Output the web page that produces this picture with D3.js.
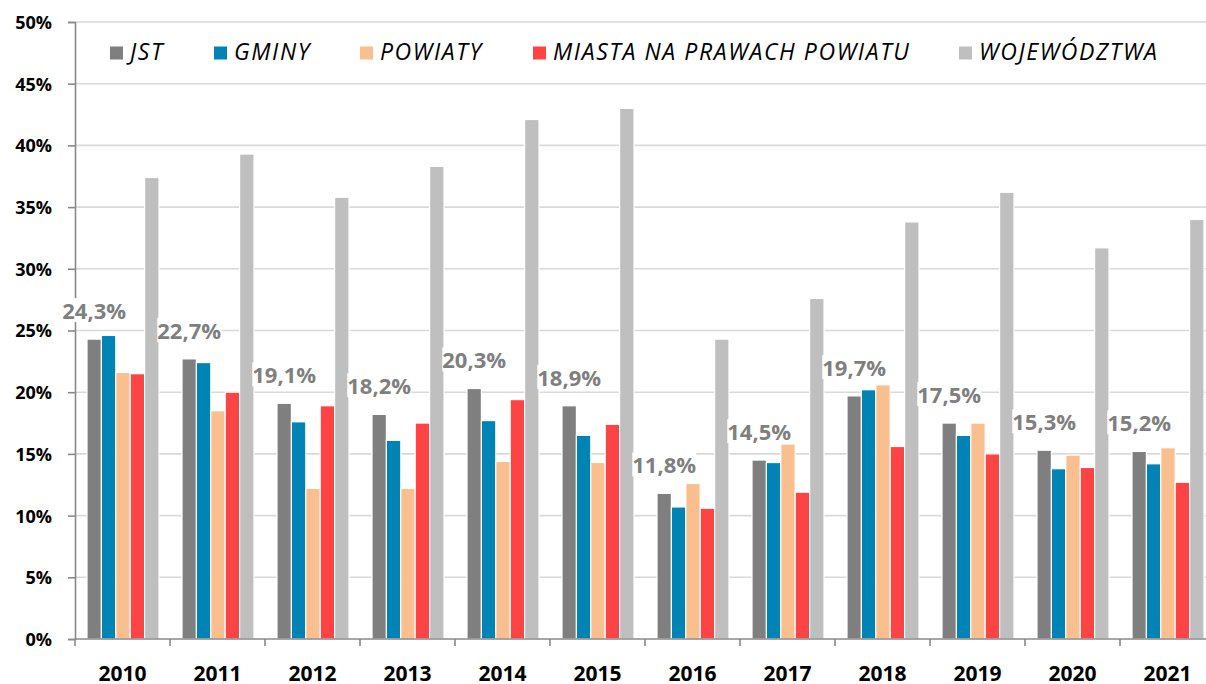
<!DOCTYPE html>
<html>
<head>
<meta charset="utf-8">
<script src="https://cdn.jsdelivr.net/npm/d3@7"></script>
<style>
  body { margin: 0; background: #fff; }
  svg { display: block; }
</style>
</head>
<body>
<svg width="1206" height="684"></svg>
<script>
// data
var years = ["2010", "2011", "2012", "2013", "2014", "2015", "2016", "2017", "2018", "2019", "2020", "2021"];
var seriesNames = ["JST", "GMINY", "POWIATY", "MIASTA NA PRAWACH POWIATU", "WOJEWÓDZTWA"];
var jst      = [24.3, 22.7, 19.1, 18.2, 20.3, 18.9, 11.8, 14.5, 19.7, 17.5, 15.3, 15.2];
var gminy    = [24.6, 22.4, 17.6, 16.1, 17.7, 16.5, 10.7, 14.3, 20.2, 16.5, 13.8, 14.2];
var powiaty  = [21.6, 18.5, 12.2, 12.2, 14.4, 14.3, 12.6, 15.8, 20.6, 17.5, 14.9, 15.5];
var miasta   = [21.5, 20.0, 18.9, 17.5, 19.4, 17.4, 10.6, 11.9, 15.6, 15.0, 13.9, 12.7];
var woj      = [37.4, 39.3, 35.8, 38.3, 42.1, 43.0, 24.3, 27.6, 33.8, 36.2, 31.7, 34.0];
var yTicks   = [0, 5, 10, 15, 20, 25, 30, 35, 40, 45, 50];

var colors = ["#7f7f7f", "#0084b5", "#f9bf8f", "#fd4444", "#bfbfbf"];
var allSeries = [jst, gminy, powiaty, miasta, woj];

var svg = d3.select("svg");
var plotLeft = 75, plotTop = 22, plotBottom = 639;
var catW = 95;
var plotRight = plotLeft + catW * years.length;

var x = d3.scaleBand().domain(years).range([plotLeft, plotRight]).paddingInner(0).paddingOuter(0);
var inner = d3.scaleBand().domain(d3.range(seriesNames.length))
    .range([12, catW - 11]).padding(0);
var y = d3.scaleLinear().domain([0, 50]).range([plotBottom, plotTop]);

// gridlines
svg.append("g")
    .selectAll("line")
    .data(yTicks.slice(1))
    .enter()
    .append("line")
    .attr("x1", plotLeft)
    .attr("x2", plotRight)
    .attr("y1", d => y(d))
    .attr("y2", d => y(d))
    .attr("stroke", "#d9d9d9")
    .attr("stroke-width", 1.6);

// bars
allSeries.forEach(function(vals, si) {
    svg.append("g")
        .selectAll("rect")
        .data(vals)
        .enter()
        .append("rect")
        .attr("x", (d, i) => x(years[i]) + inner(si))
        .attr("width", inner.bandwidth())
        .attr("y", d => y(d))
        .attr("height", d => plotBottom - y(d))
        .attr("fill", colors[si])
        .attr("stroke", "#fff")
        .attr("stroke-width", 1.2);
});

// y axis
var yAxis = d3.axisLeft(y)
    .tickValues(yTicks)
    .tickSize(7)
    .tickFormat(d => d + "%");
var gy = svg.append("g")
    .attr("transform", `translate(${plotLeft},0)`)
    .call(yAxis);
gy.select(".domain").attr("stroke", "#898989").attr("stroke-width", 1.6);
gy.selectAll(".tick line").attr("stroke", "#898989").attr("stroke-width", 1.6);
gy.selectAll(".tick text")
    .attr("x", -23)
    .attr("dy", "0.36em")
    .attr("fill", "#000")
    .style("font", "bold 18px 'Open Sans', sans-serif");

// x axis
svg.append("line")
    .attr("x1", plotLeft).attr("x2", plotRight)
    .attr("y1", plotBottom).attr("y2", plotBottom)
    .attr("stroke", "#898989").attr("stroke-width", 1.6);
svg.append("g")
    .selectAll("line")
    .data(d3.range(years.length + 1))
    .enter()
    .append("line")
    .attr("x1", d => plotLeft + d * x.bandwidth())
    .attr("x2", d => plotLeft + d * x.bandwidth())
    .attr("y1", plotBottom)
    .attr("y2", plotBottom + 7)
    .attr("stroke", "#898989").attr("stroke-width", 1.6);
svg.append("g")
    .selectAll("text")
    .data(years)
    .enter()
    .append("text")
    .attr("x", d => x(d) + x.bandwidth() / 2)
    .attr("y", 681)
    .attr("text-anchor", "middle")
    .attr("fill", "#000")
    .style("font", "bold 21px 'Open Sans', sans-serif")
    .text(d => d);

// labels for JST
var lbl = svg.append("g");
jst.forEach(function(v, i) {
    var cx = x(years[i]) + inner(0) + inner.bandwidth() / 2;
    var g = lbl.append("g");
    var t = g.append("text")
        .attr("x", cx)
        .attr("y", y(v) - 20)
        .attr("text-anchor", "middle")
        .attr("fill", "#7f7f7f")
        .style("font", "bold 22px 'Open Sans', sans-serif")
        .text(d3.format(".1f")(v).replace(".", ",") + "%");
    var bb = t.node().getBBox();
    g.insert("rect", "text")
        .attr("x", bb.x)
        .attr("y", bb.y + 3)
        .attr("width", bb.width)
        .attr("height", bb.height - 6)
        .attr("fill", "#fff");
});

// legend
var legendX = [110, 214, 360, 533, 959];
var lg = svg.append("g");
seriesNames.forEach(function(name, i) {
    lg.append("rect")
        .attr("x", legendX[i])
        .attr("y", 46.5)
        .attr("width", 13)
        .attr("height", 13)
        .attr("fill", colors[i]);
    lg.append("text")
        .attr("x", legendX[i] + 20)
        .attr("y", 60)
        .attr("fill", "#000")
        .style("font", "italic 23px 'Open Sans', sans-serif")
        .style("letter-spacing", "1.6px")
        .text(name);
});
</script>
</body>
</html>
